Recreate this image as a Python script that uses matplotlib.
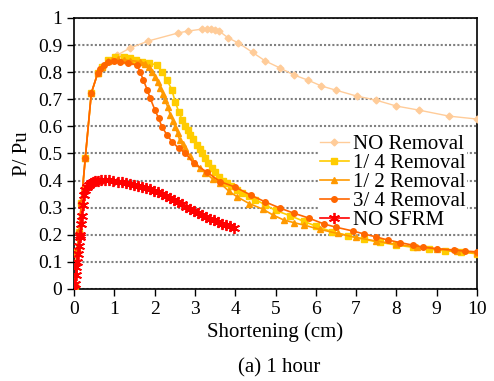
import matplotlib
matplotlib.use("Agg")
import matplotlib.pyplot as plt
from matplotlib.ticker import MultipleLocator, FormatStrFormatter

plt.rcParams['font.family'] = ['Liberation Serif', 'DejaVu Serif']

# NO Removal
x_none = [0, 0.03, 0.07, 0.13, 0.18, 0.28, 0.43, 0.59, 0.7, 0.86, 1.07, 1.39, 1.84,
          2.59, 2.84, 3.18, 3.3, 3.4, 3.5, 3.6, 3.83, 4.08, 4.43, 4.75, 5.12, 5.45,
          5.8, 6.14, 6.49, 7.01, 7.49, 8.0, 8.56, 9.3, 10.0]
y_none = [0, 0.01, 0.136, 0.21, 0.316, 0.483, 0.723, 0.797, 0.82, 0.84, 0.863, 0.889, 0.915,
          0.945, 0.952, 0.959, 0.959, 0.958, 0.956, 0.952, 0.926, 0.908, 0.873, 0.841, 0.815, 0.79,
          0.771, 0.749, 0.734, 0.712, 0.697, 0.675, 0.66, 0.638, 0.627]

# 1/4 Removal
x_q1 = [0, 0.03, 0.07, 0.13, 0.18, 0.28, 0.43, 0.59, 0.7, 0.85, 1.02, 1.23, 1.39, 1.55,
        1.68, 1.85, 2.06, 2.18, 2.31, 2.43, 2.51, 2.6, 2.68, 2.76, 2.83, 2.89, 2.96, 3.05,
        3.12, 3.18, 3.25, 3.33, 3.42, 3.5, 3.6, 3.7, 3.8, 3.9, 4.04, 4.18, 4.34, 4.5, 4.75,
        5.0, 5.37, 5.7, 6.0, 6.4, 6.8, 7.2, 7.6, 8.0, 8.4, 8.8, 9.2, 9.6, 10.0]
y_q1 = [0, 0.01, 0.136, 0.21, 0.316, 0.483, 0.723, 0.797, 0.82, 0.845, 0.857, 0.857, 0.851, 0.845,
        0.839, 0.833, 0.827, 0.802, 0.771, 0.734, 0.691, 0.654, 0.625, 0.60, 0.585, 0.57, 0.553, 0.53,
        0.515, 0.50, 0.482, 0.465, 0.447, 0.43, 0.415, 0.40, 0.39, 0.38, 0.367, 0.355, 0.342, 0.33, 0.31,
        0.29, 0.27, 0.25, 0.232, 0.212, 0.197, 0.183, 0.172, 0.162, 0.154, 0.147, 0.141, 0.136, 0.13]

# 1/2 Removal
x_half = [0, 0.03, 0.07, 0.13, 0.18, 0.28, 0.43, 0.59, 0.7, 0.85, 0.94, 1.1, 1.23, 1.4,
          1.64, 1.75, 1.85, 1.93, 2.01, 2.08, 2.14, 2.2, 2.26, 2.33, 2.39, 2.45, 2.51, 2.57,
          2.62, 2.7, 2.76, 2.88, 3.01, 3.13, 3.26, 3.45, 3.63, 3.85, 4.05, 4.35, 4.68, 4.95,
          5.2, 5.45, 5.7, 6.1, 6.54, 7.0, 7.5, 8.0, 8.5, 9.0, 9.5, 10.0]
y_half = [0, 0.01, 0.136, 0.21, 0.316, 0.483, 0.723, 0.797, 0.82, 0.84, 0.845, 0.847, 0.845, 0.843,
          0.839, 0.832, 0.82, 0.80, 0.783, 0.762, 0.741, 0.72, 0.697, 0.67, 0.642, 0.62, 0.599, 0.575,
          0.55, 0.535, 0.52, 0.49, 0.464, 0.445, 0.428, 0.405, 0.39, 0.36, 0.34, 0.315, 0.295, 0.272,
          0.255, 0.245, 0.236, 0.22, 0.205, 0.19, 0.177, 0.165, 0.155, 0.147, 0.139, 0.133]

# 3/4 Removal
x_q3 = [0, 0.03, 0.07, 0.13, 0.18, 0.28, 0.43, 0.59, 0.65, 0.75, 0.85, 1.0, 1.14, 1.35,
        1.56, 1.64, 1.72, 1.82, 1.89, 2.01, 2.1, 2.18, 2.31, 2.43, 2.6, 2.76, 2.97, 3.3,
        3.63, 4.0, 4.38, 4.75, 5.12, 5.45, 5.82, 6.2, 6.5, 6.92, 7.2, 7.5, 7.78, 8.1, 8.4,
        8.65, 9.0, 9.43, 9.7, 10.0]
y_q3 = [0, 0.01, 0.136, 0.21, 0.316, 0.483, 0.723, 0.797, 0.81, 0.825, 0.839, 0.841, 0.839, 0.833,
        0.827, 0.802, 0.771, 0.734, 0.704, 0.66, 0.63, 0.599, 0.568, 0.544, 0.519, 0.502, 0.464, 0.431,
        0.396, 0.376, 0.347, 0.321, 0.298, 0.28, 0.262, 0.24, 0.228, 0.214, 0.203, 0.192, 0.181, 0.171, 0.162,
        0.155, 0.149, 0.144, 0.14, 0.137]

# NO SFRM
x_sfrm = [0, 0.02, 0.04, 0.06, 0.08, 0.1, 0.12, 0.14, 0.16, 0.18, 0.2, 0.22, 0.24, 0.28, 0.32,
          0.37, 0.42, 0.48, 0.53, 0.6, 0.68, 0.78, 0.88, 0.98, 1.08, 1.18, 1.28, 1.38, 1.48,
          1.58, 1.68, 1.78, 1.88, 1.98, 2.08, 2.18, 2.28, 2.38, 2.48, 2.58, 2.68, 2.78, 2.88,
          2.98, 3.08, 3.18, 3.28, 3.38, 3.48, 3.58, 3.68, 3.78, 3.88, 3.96]
y_sfrm = [0, 0.02, 0.05, 0.08, 0.1, 0.13, 0.16, 0.19, 0.2, 0.24, 0.27, 0.31, 0.347, 0.365, 0.378,
          0.385, 0.392, 0.396, 0.398, 0.4, 0.402, 0.402, 0.401, 0.399, 0.394, 0.393, 0.391, 0.389, 0.385,
          0.381, 0.377, 0.373, 0.368, 0.36, 0.357, 0.35, 0.343, 0.335, 0.327, 0.32, 0.313, 0.304, 0.296,
          0.288, 0.28, 0.272, 0.265, 0.258, 0.253, 0.247, 0.241, 0.236, 0.231, 0.225]

fig = plt.figure(figsize=(4.94, 3.81), dpi=100)
ax = fig.add_axes([0.1498, 0.2415, 0.8158, 0.7113])

ax.plot(x_none, y_none, color='#FFCC99', lw=1, marker='D', ms=3.5, label='NO Removal', zorder=3)
ax.plot(x_q1, y_q1, color='#FFCC00', lw=1.2, marker='s', ms=4.5, label='1/ 4 Removal', zorder=4)
ax.plot(x_half, y_half, color='#FF9900', lw=1.2, marker='^', ms=5, label='1/ 2 Removal', zorder=5)
ax.plot(x_q3, y_q3, color='#FF6600', lw=1.2, marker='o', ms=4, label='3/ 4 Removal', zorder=6)
ax.plot(x_sfrm, y_sfrm, color='#FF0000', lw=1.2, marker=(6, 2, 0), ms=8, mew=1.3,
        label='NO SFRM', zorder=7)

ax.set_xlim(0, 10)
ax.set_ylim(0, 1)
ax.xaxis.set_major_locator(MultipleLocator(1))
ax.yaxis.set_major_locator(MultipleLocator(0.1))
ax.yaxis.set_major_formatter(FormatStrFormatter('%g'))
ax.tick_params(labelsize=14, direction='out', length=5, width=1)
ax.grid(axis='y', color='#808080', ls=(0, (1, 1)), lw=1.5, zorder=0)
for s in ax.spines.values():
    s.set_linewidth(1.2)

ax.set_xlabel('Shortening (cm)', fontsize=15, labelpad=3)
ax.set_ylabel('P/ Pu', fontsize=15, labelpad=4)
fig.text(0.565, 0.008, '(a) 1 hour', fontsize=15, ha='center', va='bottom')

leg = ax.legend(loc='upper left', bbox_to_anchor=(0.607, 0.574), fontsize=15,
                frameon=True, fancybox=False, edgecolor='none', facecolor='white',
                framealpha=1, labelspacing=-0.03, handlelength=1.4, handletextpad=0.2,
                borderpad=0.05, borderaxespad=0)
leg.set_zorder(2)

fig.savefig('out.png', dpi=100)
